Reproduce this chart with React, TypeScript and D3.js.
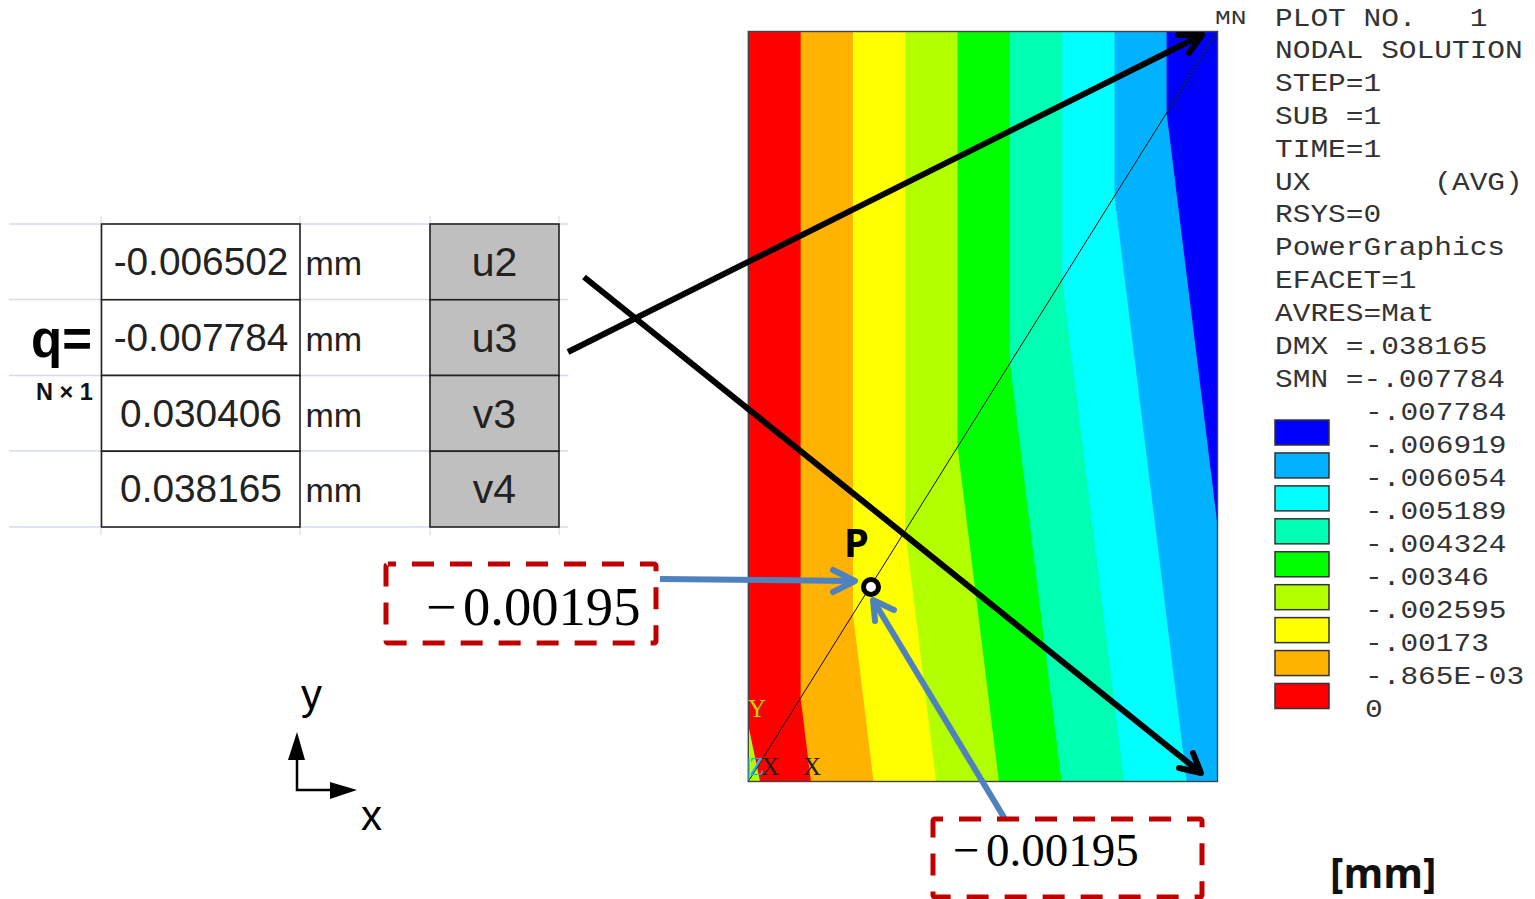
import React from "react";
import * as d3 from "d3";

// ---------- data ----------
const nodalLabels = ["u2", "u3", "v3", "v4"];
const nodalValues = ["-0.006502", "-0.007784", "0.030406", "0.038165"];
const nodalUnits = ["mm", "mm", "mm", "mm"];
const u2 = -0.006502;
const u3 = -0.007784;
const contourLevels = [-0.000868, -0.001736, -0.002604, -0.003472, -0.00434, -0.005208, -0.006076, -0.00694];
const bandColors = ["#ff0000", "#ffb200", "#ffff00", "#b2ff00", "#00ff00", "#00ffb2", "#00ffff", "#00b2ff", "#0000ff"];
const legendLabels = ["-.007784", "-.006919", "-.006054", "-.005189", "-.004324", "-.00346", "-.002595", "-.00173", "-.865E-03", "0"];
const infoLines = ["PLOT NO.   1", "NODAL SOLUTION", "STEP=1", "SUB =1", "TIME=1", "UX       (AVG)", "RSYS=0", "PowerGraphics", "EFACET=1", "AVRES=Mat", "DMX =.038165", "SMN =-.007784"];
const pointValue = "0.00195";

// ---------- layout ----------
const W = 1535, H = 899;
const x = d3.scaleLinear().domain([0, 1]).range([748.3, 1217.5]);
const y = d3.scaleLinear().domain([0, 1]).range([781.5, 31.5]);
const rowY = d3.scaleBand<number>().domain([0, 1, 2, 3]).range([224, 527]);
const legendY = d3.scaleLinear().domain([0, 8]).range([432.5, 696]);
const infoY = d3.scaleLinear().domain([0, 11]).range([25.5, 386.5]);
const legendTextY = d3.scaleLinear().domain([0, 9]).range([420, 717]);

type V = [number, number, number];
const triangles: V[][] = [
  [[0, 0, 0], [1, 1, u3], [0, 1, 0]],
  [[0, 0, 0], [1, 0, u2], [1, 1, u3]],
];

// keep the part of a triangle whose value is at or below the level
function clipBelow(poly: V[], level: number): V[] {
  const out: V[] = [];
  poly.forEach((a, i) => {
    const b = poly[(i + 1) % poly.length];
    const aIn = a[2] <= level, bIn = b[2] <= level;
    if (aIn) out.push(a);
    if (aIn !== bIn) {
      const t = (level - a[2]) / (b[2] - a[2]);
      out.push([a[0] + t * (b[0] - a[0]), a[1] + t * (b[1] - a[1]), level]);
    }
  });
  return out;
}
const polyPath = d3.line<V>().x((d) => x(d[0])).y((d) => y(d[1])).curve(d3.curveLinearClosed);

const mono = "'Liberation Mono', monospace";
const sans = "'Liberation Sans', Arial, sans-serif";
const serif = "'Liberation Serif', 'Times New Roman', serif";
const MONO_FILL = "#333";

function MonoText({ tx, ty, s }: { tx: number; ty: number; s: string }) {
  return (
    <text transform={`translate(${tx},${ty}) scale(1.18,1)`} xmlSpace="preserve" style={{ whiteSpace: "pre" }} fontFamily={mono} fontSize={25} fill={MONO_FILL}>{s}</text>
  );
}

function OpenArrow({ from, tip, wings, color, w }: { from: number[]; tip: number[]; wings: number[][]; color: string; w: number }) {
  return (
    <g fill="none" stroke={color} strokeWidth={w} strokeLinecap="round" strokeLinejoin="round">
      <path d={`M${from[0]},${from[1]}L${tip[0]},${tip[1]}`} strokeLinecap="butt" />
      <path d={`M${wings[0][0]},${wings[0][1]}L${tip[0]},${tip[1]}L${wings[1][0]},${wings[1][1]}`} />
    </g>
  );
}

function DashBox({ bx, by, bw, bh }: { bx: number; by: number; bw: number; bh: number }) {
  return <rect x={bx} y={by} width={bw} height={bh} rx={2} fill="none" stroke="#c00000" strokeWidth={5} strokeDasharray="22 16" strokeDashoffset={14} />;
}

export default function App() {
  const gridLines = [224, 299.5, 375.5, 451, 527];
  return (
    <svg width={W} height={H} viewBox={`0 0 ${W} ${H}`} style={{ position: "absolute", left: 0, top: 0, display: "block", background: "#fff" }}>
      {/* spreadsheet grid */}
      {gridLines.map((g) => <line key={g} x1={9} x2={568} y1={g} y2={g} stroke="#d6daec" strokeWidth={1.6} />)}
      {[101, 300, 430, 559].map((v) => <line key={v} x1={v} x2={v} y1={216} y2={535} stroke="#dfe1ea" strokeWidth={1.4} />)}

      {/* table */}
      {nodalValues.map((v, i) => {
        const ry = rowY(i)!, rh = rowY.bandwidth();
        return (
          <g key={i}>
            <rect x={101.5} y={ry} width={198.5} height={rh} fill="#fff" stroke="#222" strokeWidth={1.6} />
            <text x={201} y={ry + 51} textAnchor="middle" fontFamily={sans} fontSize={38.8} fill="#222">{v}</text>
            <text x={305.5} y={ry + 51} fontFamily={sans} fontSize={34} fill="#222">{nodalUnits[i]}</text>
            <rect x={430} y={ry} width={129} height={rh} fill="#bfbfbf" stroke="#222" strokeWidth={1.6} />
            <text x={494.5} y={ry + 52} textAnchor="middle" fontFamily={sans} fontSize={41} fill="#222">{nodalLabels[i]}</text>
          </g>
        );
      })}
      <text x={31} y={357} fontFamily={sans} fontWeight={700} fontSize={51} fill="#000">q=</text>
      <text x={36} y={400} fontFamily={sans} fontWeight={700} fontSize={23.5} fill="#111">N × 1</text>

      {/* contour plot */}
      {triangles.map((tri, t) => (
        <g key={t}>
          {bandColors.map((c, i) => {
            const poly = i === 0 ? tri : clipBelow(tri, contourLevels[i - 1]);
            return poly.length > 2 ? <path key={c} d={polyPath(poly) as string} fill={c} /> : null;
          })}
        </g>
      ))}
      <path d={polyPath([[0, 0, 0], [0, 0.075, 0], [0.025, 0, 0]]) as string} fill="#b2ff00" />
      <rect x={x(0)} y={y(1)} width={x(1) - x(0)} height={y(0) - y(1)} fill="none" stroke="#444" strokeWidth={1.4} />
      <line x1={x(0)} y1={y(0)} x2={x(1)} y2={y(1)} stroke="#111" strokeWidth={1} />

      <text x={748} y={717} fontFamily={serif} fontSize={25} fill="#c4d400">Y</text>
      <text x={749} y={775} fontFamily={serif} fontSize={25} fill="#18b8e0">Z</text>
      <path d="M749,758V781" stroke="#18b8e0" strokeWidth={1.2} />
      <text x={761} y={775} fontFamily={serif} fontSize={25} fill="#222">X</text>
      <text x={803} y={775} fontFamily={serif} fontSize={25} fill="#222">X</text>

      {/* black arrows */}
      <OpenArrow from={[568, 352]} tip={[1202, 35]} wings={[[1178, 35], [1189, 53]]} color="#000" w={6} />
      <OpenArrow from={[584, 277]} tip={[1201, 773]} wings={[[1179, 768], [1193, 753]]} color="#000" w={6} />

      {/* point P */}
      <OpenArrow from={[660, 579]} tip={[855, 581]} wings={[[833, 570], [833, 592]]} color="#4f81bd" w={6} />
      <OpenArrow from={[1005, 819]} tip={[873, 600]} wings={[[894, 610], [875, 621]]} color="#4f81bd" w={6} />
      <circle cx={871} cy={587} r={7.5} fill="#fff" stroke="#000" strokeWidth={5} />
      <text x={844} y={557} fontFamily="'Noto Sans', sans-serif" fontWeight={700} fontSize={40} fill="#000">P</text>

      {/* callouts */}
      <DashBox bx={386} by={564} bw={270} bh={79} />
      <text x={426} y={625} fontFamily={serif} fontSize={54} fill="#000">−</text>
      <text x={463} y={625} fontFamily={serif} fontSize={54.6} fill="#000">{pointValue}</text>
      <DashBox bx={933} by={819} bw={269} bh={78} />
      <text x={953} y={866} fontFamily={serif} fontSize={47} fill="#000">−</text>
      <text x={986} y={866} fontFamily={serif} fontSize={47} fill="#000">{pointValue}</text>

      {/* xy axes */}
      <path d="M297,757V790H331" fill="none" stroke="#000" strokeWidth={2.5} />
      <path d="M297,732L305,760H288Z" fill="#000" />
      <path d="M357,790L330,782V799Z" fill="#000" />
      <text x={301} y={709} fontFamily={sans} fontSize={42} fill="#000">y</text>
      <text x={361} y={830} fontFamily={sans} fontSize={42} fill="#000">x</text>

      {/* ANSYS text */}
      <text transform="translate(1215,24) scale(1.25,1)" fontFamily={mono} fontSize={21} fill={MONO_FILL}>MN</text>
      {infoLines.map((l, i) => <MonoText key={i} tx={1275} ty={infoY(i)} s={l} />)}
      {bandColors.slice().reverse().map((c, i) => (
        <rect key={c} x={1275} y={legendY(i) - 12.5} width={54} height={25} fill={c} stroke="#333" strokeWidth={1.5} />
      ))}
      {legendLabels.map((l, i) => <MonoText key={l} tx={1365} ty={legendTextY(i)} s={l} />)}
      <text x={1330} y={888} fontFamily="'Open Sans', sans-serif" fontWeight={700} fontSize={40.5} fill="#111">[mm]</text>
    </svg>
  );
}
